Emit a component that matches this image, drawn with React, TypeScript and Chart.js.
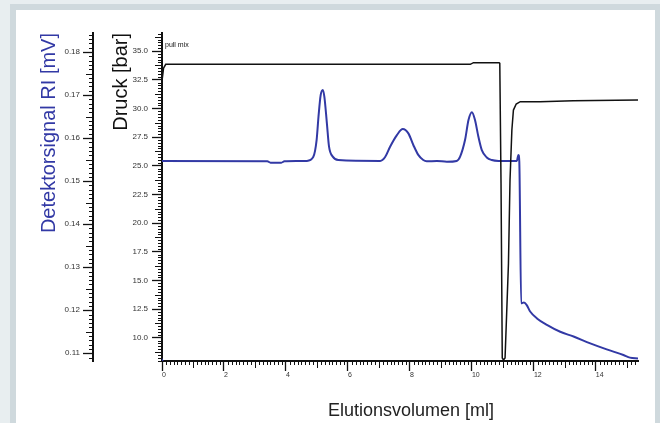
import React, { useEffect, useRef } from "react";
import { Chart, registerables } from "chart.js";

Chart.register(...registerables);

// ---- data ----
const xTicks = [0, 2, 4, 6, 8, 10, 12, 14];
const pressureTicks = [10, 12.5, 15, 17.5, 20, 22.5, 25, 27.5, 30, 32.5, 35];
const detectorTicks = [0.11, 0.12, 0.13, 0.14, 0.15, 0.16, 0.17, 0.18];

// Detector signal RI [mV] vs elution volume [ml]
const riX = [
  0, 3.4, 3.5, 3.85, 3.95, 4.67, 4.88, 4.99, 5.05, 5.12, 5.19, 5.24, 5.32, 5.39, 5.51, 5.69,
  7.04, 7.2, 7.36, 7.58, 7.77, 7.95, 8.11, 8.27, 8.43, 8.54, 8.87, 9.19, 9.51,
  9.62, 9.78, 9.89, 10.0, 10.1, 10.21, 10.32, 10.48, 10.64, 10.86,
  11.45, 11.5, 11.53, 11.59, 11.68, 11.77, 11.88, 12.1, 12.42, 12.85, 13.28, 13.82, 14.35, 14.89, 15.1, 15.36,
];
const riY = [
  0.1547, 0.1546, 0.1543, 0.1543, 0.1546, 0.1547, 0.1556, 0.1596, 0.165, 0.17, 0.1712, 0.1696, 0.1635, 0.158, 0.1557, 0.1549,
  0.1547, 0.1556, 0.158, 0.1607, 0.1621, 0.1611, 0.1584, 0.1561, 0.1549, 0.1546, 0.1547, 0.1545, 0.1547,
  0.1557, 0.1596, 0.1642, 0.166, 0.1642, 0.1603, 0.1572, 0.1555, 0.1549, 0.1547,
  0.1547, 0.1561, 0.1545, 0.1216, 0.1218, 0.1212, 0.1197, 0.1181, 0.1166, 0.115, 0.1139, 0.1123, 0.1109, 0.1096, 0.109, 0.1088,
];

// Pressure [bar] vs elution volume [ml]
const pX = [
  0, 0.05, 0.12, 9.95, 10.05, 10.88, 10.9, 10.94, 10.98, 11.02, 11.07, 11.18, 11.23, 11.29, 11.34, 11.43, 11.56, 12.2, 13.27, 15.36,
];
const pY = [
  32.4, 33.5, 33.84, 33.84, 33.98, 33.98, 33.9, 23.46, 8.23, 8.06, 8.23, 16.49, 23.75, 28.11, 29.85, 30.38, 30.58, 30.58, 30.67, 30.73,
];

const X_MIN = 0;
const X_MAX = 15.36;
const P_MIN = 7.968;
const P_MAX = 36.57;
const D_MIN = 0.10821;
const D_MAX = 0.18442;

const FONT = '"Liberation Sans", Arial, Helvetica, sans-serif';
const BLUE = "#3239a5";
const INK = "#111111";

const minorTicksPlugin = {
  id: "minorTicks",
  afterDraw(chart: any) {
    const ctx = chart.ctx;
    const xs = chart.scales.x;
    const yp = chart.scales.yP;
    const yd = chart.scales.yD;
    ctx.save();
    ctx.strokeStyle = INK;
    ctx.lineWidth = 1;
    ctx.beginPath();
    // x axis: 8 subdivisions per ml
    const xAxisY = xs.top;
    for (let i = 0; i <= Math.floor(X_MAX * 8); i++) {
      if (i % 16 === 0) continue;
      const len = i % 8 === 0 ? 7 : 4;
      const px = Math.round(xs.getPixelForValue(i / 8)) + 0.5;
      ctx.moveTo(px, xAxisY);
      ctx.lineTo(px, xAxisY + len);
    }
    // pressure axis: 0.25 bar
    const pAxisX = yp.right;
    for (let i = Math.ceil(P_MIN * 4); i <= Math.floor(P_MAX * 4); i++) {
      if (i % 10 === 0) continue;
      const len = i % 5 === 0 ? 7 : 4;
      const py = Math.round(yp.getPixelForValue(i / 4)) + 0.5;
      ctx.moveTo(pAxisX - len, py);
      ctx.lineTo(pAxisX, py);
    }
    // detector axis: 0.001 mV
    const dAxisX = yd.right;
    for (let i = Math.ceil(D_MIN * 1000); i <= Math.floor(D_MAX * 1000); i++) {
      if (i % 10 === 0) continue;
      const len = i % 5 === 0 ? 7 : 4;
      const py = Math.round(yd.getPixelForValue(i / 1000)) + 0.5;
      ctx.moveTo(dAxisX - len, py);
      ctx.lineTo(dAxisX, py);
    }
    ctx.stroke();

    // annotations
    ctx.fillStyle = INK;
    ctx.font = `7px ${FONT}`;
    ctx.textBaseline = "middle";
    ctx.textAlign = "left";
    ctx.fillText("pull mix", chart.chartArea.left + 3, chart.chartArea.top + 12);

    ctx.fillStyle = "#222";
    ctx.font = `18px ${FONT}`;
    ctx.textAlign = "center";
    ctx.fillText("Elutionsvolumen [ml]", 411, 411);
    ctx.restore();
  },
};

export default function App() {
  const ref = useRef<HTMLCanvasElement | null>(null);

  useEffect(() => {
    if (!ref.current) return;
    Chart.defaults.font.family = FONT;
    const chart = new Chart(ref.current, {
      type: "line",
      data: {
        datasets: [
          {
            label: "Druck",
            data: pX.map((x, i) => ({ x, y: pY[i] })),
            yAxisID: "yP",
            borderColor: INK,
            borderWidth: 1.5,
            pointRadius: 0,
            tension: 0,
          },
          {
            label: "RI",
            data: riX.map((x, i) => ({ x, y: riY[i] })),
            yAxisID: "yD",
            borderColor: BLUE,
            borderWidth: 2,
            pointRadius: 0,
            cubicInterpolationMode: "monotone",
          },
          {
            label: "start",
            data: [{ x: X_MIN, y: D_MIN }],
            yAxisID: "yD",
            showLine: false,
            pointStyle: "triangle",
            pointRadius: 3,
            backgroundColor: BLUE,
            borderColor: BLUE,
            borderWidth: 0,
          },
        ],
      },
      options: {
        responsive: false,
        animation: false,
        layout: { padding: { top: 33, right: 22, left: 0, bottom: 0 } },
        plugins: { legend: { display: false }, tooltip: { enabled: false } },
        events: [],
        scales: {
          x: {
            type: "linear",
            position: "bottom",
            min: X_MIN,
            max: X_MAX,
            afterFit: (s: any) => {
              s.height = 62;
            },
            afterBuildTicks: (s: any) => {
              s.ticks = xTicks.map((v) => ({ value: v }));
            },
            grid: {
              drawOnChartArea: false,
              drawTicks: true,
              tickLength: 10,
              tickColor: INK,
              tickWidth: 1.3,
            },
            border: { display: true, color: INK, width: 2 },
            ticks: {
              align: "start",
              padding: 0,
              maxRotation: 0,
              autoSkip: false,
              color: "#333",
              font: { size: 7 },
              callback: (v: any) => String(v),
            },
          },
          yP: {
            type: "linear",
            position: "left",
            weight: 0,
            min: P_MIN,
            max: P_MAX,
            afterFit: (s: any) => {
              s.width = 69;
            },
            afterBuildTicks: (s: any) => {
              s.ticks = pressureTicks.map((v) => ({ value: v }));
            },
            grid: {
              drawOnChartArea: false,
              drawTicks: true,
              tickLength: 10,
              tickColor: INK,
              tickWidth: 1.3,
            },
            border: { display: true, color: INK, width: 2 },
            ticks: {
              padding: 4,
              autoSkip: false,
              color: "#333",
              font: { size: 8 },
              callback: (v: any) => Number(v).toFixed(1),
            },
            title: {
              display: true,
              text: "Druck [bar]",
              align: "end",
              color: INK,
              font: { size: 20 },
              padding: { top: 16.5, bottom: 0 },
            },
          },
          yD: {
            type: "linear",
            position: "left",
            weight: 1,
            min: D_MIN,
            max: D_MAX,
            afterFit: (s: any) => {
              s.width = 93;
            },
            afterBuildTicks: (s: any) => {
              s.ticks = detectorTicks.map((v) => ({ value: v }));
            },
            grid: {
              drawOnChartArea: false,
              drawTicks: true,
              tickLength: 10,
              tickColor: INK,
              tickWidth: 1.3,
            },
            border: { display: true, color: INK, width: 2 },
            ticks: {
              padding: 3,
              autoSkip: false,
              color: "#333",
              font: { size: 8 },
              callback: (v: any) => Number(v).toFixed(2),
            },
            title: {
              display: true,
              text: "Detektorsignal RI [mV]",
              align: "end",
              color: BLUE,
              font: { size: 20 },
              padding: { top: 37, bottom: 0 },
            },
          },
        },
      } as any,
      plugins: [minorTicksPlugin],
    });
    return () => chart.destroy();
  }, []);

  return (
    <div
      style={{
        position: "fixed",
        left: 0,
        top: 0,
        width: 660,
        height: 423,
        background: "#e8eef0",
        overflow: "hidden",
      }}
    >
      <div
        style={{
          position: "absolute",
          left: 10,
          top: 4,
          width: 651,
          height: 440,
          boxSizing: "border-box",
          border: "6px solid #cfd9dd",
          background: "#ffffff",
        }}
      />
      <canvas
        ref={ref}
        width={660}
        height={423}
        style={{ position: "absolute", left: 0, top: 0, width: 660, height: 423 }}
      />
    </div>
  );
}
